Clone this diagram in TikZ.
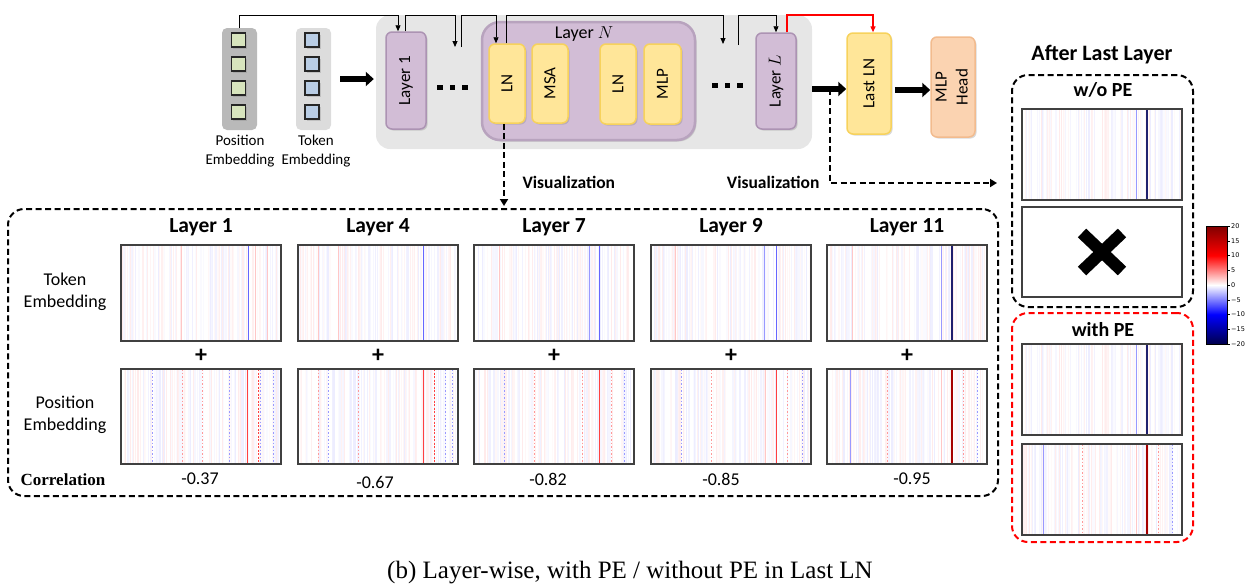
\documentclass[tikz,border=0pt]{standalone}
\usepackage{fontspec}
\setmainfont{Carlito}
\newfontfamily\serifcap{Liberation Serif}
\newfontfamily\cbfont{DejaVu Sans}
\usetikzlibrary{arrows.meta,shadows,calc}
\definecolor{pegray}{HTML}{B9B9B9}
\definecolor{tkgray}{HTML}{DCDCDC}
\definecolor{pegreen}{HTML}{D7E4BD}
\definecolor{tkblue}{HTML}{B9CDE5}
\definecolor{areagray}{HTML}{E6E6E6}
\definecolor{purfill}{HTML}{D2BDD6}
\definecolor{purdraw}{HTML}{AC93B3}
\definecolor{yelfill}{HTML}{FFE699}
\definecolor{yeldraw}{HTML}{F7D25C}
\definecolor{orafill}{HTML}{FBD3B1}
\definecolor{oradraw}{HTML}{F2BB8E}
\definecolor{cbnavy}{HTML}{00004C}
\definecolor{cbdark}{HTML}{800000}
\definecolor{hmnavy}{HTML}{20206E}
\definecolor{hmframe}{HTML}{404040}
\pgfdeclareverticalshading{seismic}{100bp}{color(0bp)=(cbnavy); color(25bp)=(cbnavy); color(37.5bp)=(blue); color(50bp)=(white); color(62.5bp)=(red); color(75bp)=(cbdark); color(100bp)=(cbdark)}
\newcommand{\vl}[2]{\draw[#1] (#2,0) -- (#2,\hh);}
% name, left, top, height, seed, extra lines
\newcommand{\hmap}[6]{%
  \begin{scope}[shift={(#2,#3)}]
    \def\hh{#4}
    \fill[white] (0,0) rectangle (160,#4);
    \pgfmathsetseed{#5}
    \foreach \k in {1,...,70}{
      \pgfmathsetmacro{\xx}{rnd*157+1.5}
      \pgfmathtruncatemacro{\cc}{rnd*7+2}
      \pgfmathsetmacro{\ww}{rnd*1.2+0.4}
      \draw[draw=red!\cc, line width=\ww pt] (\xx,0) -- (\xx,#4);
    }
    \foreach \k in {1,...,55}{
      \pgfmathsetmacro{\xx}{rnd*157+1.5}
      \pgfmathtruncatemacro{\cc}{rnd*6+2}
      \pgfmathsetmacro{\ww}{rnd*1.2+0.4}
      \draw[draw=blue!\cc, line width=\ww pt] (\xx,0) -- (\xx,#4);
    }
    #6
  \end{scope}
  \node[hmbox, minimum height=#4 pt] (#1) at (#2+80,#3+#4/2) {};
}
\begin{document}
\begin{tikzpicture}[x=1pt,y=-1pt,
  conn/.style={line width=0.9pt,-{Triangle[length=6pt,width=5pt]}},
  bigarrow/.style={line width=5.5pt,-{Triangle[length=8pt,width=14pt]}},
  dashconn/.style={line width=2pt,dash pattern=on 6pt off 3.5pt,-{Triangle[length=7pt,width=8pt]}},
  dashbox/.style={line width=2pt,dash pattern=on 6pt off 3.5pt,rounded corners=16pt},
  shadowed/.style={drop shadow={shadow xshift=1.5pt,shadow yshift=-1.5pt,opacity=0.3}},
  purbox/.style={shadowed,rectangle,rounded corners=6pt,fill=purfill,draw=purdraw,line width=1.5pt,inner sep=0pt,font=\fontsize{17}{21}\selectfont},
  yelbox/.style={shadowed,rectangle,rounded corners=6pt,fill=yelfill,draw=yeldraw,line width=1.5pt,inner sep=0pt,font=\fontsize{17}{21}\selectfont},
  orabox/.style={shadowed,rectangle,rounded corners=6pt,fill=orafill,draw=oradraw,line width=1.5pt,inner sep=0pt,font=\fontsize{17}{21}\selectfont},
  embcol/.style={rectangle,rounded corners=5pt,inner sep=0pt,minimum width=35pt,minimum height=102pt},
  sq/.style={shadowed,rectangle,draw=black!85,line width=1.3pt,minimum size=14pt,inner sep=0pt},
  lbl/.style={font=\fontsize{15}{19}\selectfont,align=center},
  sidelbl/.style={font=\fontsize{18}{22}\selectfont,align=center},
  head/.style={font=\fontsize{21.5}{24}\selectfont\bfseries},
  plus/.style={font=\fontsize{24}{24}\selectfont\bfseries},
  corr/.style={font=\fontsize{18}{20}\selectfont},
  vis/.style={font=\fontsize{17.5}{20}\selectfont\bfseries},
  hmbox/.style={rectangle,draw=hmframe,line width=1.1pt,minimum width=160pt,inner sep=0pt},
  bl/.style={draw=blue!60,line width=1pt},
  nv/.style={draw=hmnavy,line width=1.1pt},
  rd/.style={draw=red!75,line width=1pt},
  drd/.style={draw=red!65!black,line width=1.1pt},
  lb/.style={draw=blue!40,line width=1pt},
  lr/.style={draw=red!22,line width=1pt},
  dsh/.style={dash pattern=on 2pt off 1.5pt},
  pb/.style={draw=blue!40,line width=0.9pt,dash pattern=on 1.5pt off 2pt},
  pr/.style={draw=red!40,line width=0.9pt,dash pattern=on 1.5pt off 2pt}
]
\useasboundingbox (0,0) rectangle (1250,587);

% ---------- embeddings ----------
\node[embcol,fill=pegray] (pe) at (239.5,79) {};
\node[embcol,fill=tkgray] (tk) at (313.5,79) {};
\foreach \yy [count=\i] in {40,64,88,112}{
  \node[sq,fill=pegreen] (peq\i) at (238.5,\yy) {};
  \node[sq,fill=tkblue] (tkq\i) at (312,\yy) {};
}
\node[lbl] (pelbl) at (240,151) {Position\\Embedding};
\node[lbl] (tklbl) at (316,151) {Token\\Embedding};

% ---------- encoder area ----------
\node[rectangle,rounded corners=14pt,fill=areagray,minimum width=436pt,minimum height=134pt,inner sep=0pt] (area) at (594,82) {};
\node[purbox] (l1) at (406,80.5) [minimum width=40pt,minimum height=97pt] {\rotatebox{90}{Layer 1}};
\node[purbox,rounded corners=18pt,line width=2.5pt,draw=purdraw!85] (ln) at (588.5,81) [minimum width=213pt,minimum height=118pt] {};
\node[font=\fontsize{18}{20}\selectfont] (lnlbl) at (584,34) {Layer $N$};
\node[yelbox] (ln1) at (507,83.5) [minimum width=36pt,minimum height=79pt] {\rotatebox{90}{LN}};
\node[yelbox] (msa) at (550,83.5) [minimum width=36pt,minimum height=79pt] {\rotatebox{90}{MSA}};
\node[yelbox] (ln2) at (618,84) [minimum width=36pt,minimum height=80pt] {\rotatebox{90}{LN}};
\node[yelbox] (mlp) at (662.5,84) [minimum width=37pt,minimum height=80pt] {\rotatebox{90}{MLP}};
\node[purbox] (ll) at (776,81) [minimum width=40pt,minimum height=96pt] {\rotatebox{90}{Layer $L$}};
\node[yelbox] (lastln) at (869,83.5) [minimum width=44pt,minimum height=101pt] {\rotatebox{90}{Last LN}};
\node[orabox] (mhead) at (953,87) [minimum width=44pt,minimum height=100pt] {\rotatebox{90}{\begin{tabular}{@{}c@{}}MLP\\Head\end{tabular}}};

% dots
\foreach \xx in {437,449.5,462}{ \fill (\xx,84.5) rectangle ++(5.5,5.5); }
\foreach \xx in {712,724.5,737}{ \fill (\xx,82.5) rectangle ++(5.5,5.5); }
\coordinate (d1in) at (455,47);
\coordinate (d1out) at (461,47);
\coordinate (d2in) at (723,44);
\coordinate (d2out) at (738,45);

% thick arrows
\draw[bigarrow] ([xshift=9pt]tk.east) -- ([xshift=-2pt]area.west |- tk.east);
\draw[bigarrow] (area.east |- 0,89) -- (lastln.west |- 0,89);
\draw[bigarrow] ([xshift=3pt]lastln.east |- 0,90) -- (mhead.west |- 0,90);

% thin connectors
\draw[conn] (pe.north) -- (pe.north |- 0,15) -| ([xshift=-8pt]l1.north);
\draw[conn] ([xshift=-1pt]l1.north) -- ([xshift=-1pt]l1.north |- 0,15) -| (d1in);
\draw[conn] (d1out) -- (d1out |- 0,15) -| ([xshift=-11pt]ln1.north);
\draw[conn] ([xshift=-1pt]ln1.north) -- ([xshift=-1pt]ln1.north |- 0,15) -| (d2in);
\draw[conn] (d2out) -- (d2out |- 0,15) -| (ll.north);
\draw[conn,red,line width=1.4pt] ([xshift=11pt]ll.north) -- ([xshift=11pt]ll.north |- 0,15) -| ([xshift=4pt]lastln.north);

% ---------- visualization connectors ----------
\node[dashbox,draw,rectangle,minimum width=990pt,minimum height=287pt,inner sep=0pt] (vbox) at (503,352.5) {};
\draw[dashconn] ([xshift=-3pt]ln1.south) -- ([xshift=-3pt,yshift=2pt]ln1.south |- vbox.north);
\node[vis,anchor=west] (vis1) at (519,182) {Visualization};
\coordinate (v2) at (830,89);
\node[dashbox,draw,rectangle,minimum width=181pt,minimum height=232pt,inner sep=0pt] (wobox) at (1102.5,191) {};
\node[dashbox,draw=red,rectangle,minimum width=181pt,minimum height=229pt,inner sep=0pt] (wbox) at (1102.5,427.5) {};
\draw[dashconn] (v2) |- ([xshift=-14pt]wobox.west |- 0,183);
\node[vis,anchor=east] (vis2) at (823,182) {Visualization};

% ---------- heatmaps ----------
\foreach \lx/\nm [count=\j] in {121/1,298/4,474/7,651/9,827/11}{
  \node[head] (h\j) at (\lx+80,227) {Layer \nm};
  \node[plus] (p\j) at (\lx+80,356) {+};
}
\hmap{t1}{121}{245}{96}{11}{\vl{bl}{127}\vl{lr}{134}\vl{lr}{146}\vl{lr}{60}}
\hmap{q1}{121}{369}{95}{12}{\vl{rd}{126}\vl{rd,dsh}{137}\vl{pb}{31}\vl{pr}{61}\vl{pr}{81}\vl{pb}{139}\vl{pb}{152}\vl{pb}{108}}
\hmap{t4}{298}{245}{96}{13}{\vl{bl}{125}\vl{lr}{20}\vl{lr}{40}}
\hmap{q4}{298}{369}{95}{14}{\vl{rd}{125}\vl{rd,dsh}{136}\vl{pb}{147}\vl{pb}{154}\vl{pb}{30}\vl{pr}{60}\vl{pr}{20}}
\hmap{t7}{474}{245}{96}{15}{\vl{bl}{125}\vl{lr}{25}\vl{lb}{115}}
\hmap{q7}{474}{369}{95}{16}{\vl{rd}{125}\vl{pr}{137}\vl{pb}{150}\vl{pb}{30}\vl{pr}{60}\vl{pr}{108}}
\hmap{t9}{651}{245}{96}{17}{\vl{bl}{125}\vl{lb}{113}\vl{lr}{24}}
\hmap{q9}{651}{369}{95}{18}{\vl{rd}{125}\vl{pr}{136}\vl{pb}{151}\vl{lr}{114}\vl{pr}{60}\vl{pb}{30}}
\hmap{t11}{827}{245}{96}{19}{\vl{nv}{125}\vl{lb}{114}\vl{lr}{25}}
\hmap{q11}{827}{369}{95}{20}{\vl{drd}{125}\vl{lr}{114}\vl{pr}{136}\vl{lb}{23}\vl{pb}{150}\vl{pr}{60}}

\node[sidelbl] (tklbl2) at (65,292) {Token\\Embedding};
\node[sidelbl] (pelbl2) at (65,415) {Position\\Embedding};
\node[font=\fontsize{17}{18}\selectfont\serifcap\bfseries] (corrlbl) at (63,480) {Correlation};
\node[corr] (c1) at (200,479) {-0.37};
\node[corr] (c4) at (375,482) {-0.67};
\node[corr] (c7) at (548,479) {-0.82};
\node[corr] (c9) at (721,479) {-0.85};
\node[corr] (c11) at (912,479) {-0.95};

% ---------- after last layer ----------
\node[font=\fontsize{22}{24}\selectfont\bfseries] (after) at (1102,55) {After Last Layer};
\node[font=\fontsize{20}{22}\selectfont\bfseries] (wope) at (1103,90) {w/o PE};
\node[font=\fontsize{20}{22}\selectfont\bfseries] (wpe) at (1103,330) {with PE};
\hmap{r1}{1022}{109}{91}{21}{\vl{nv}{125}\vl{lb}{114}}
\node[hmbox,fill=white,minimum height=90pt] (rx) at (1102,252) {};
\draw[line width=12pt] ([xshift=-20pt,yshift=19pt]rx.center) -- ([xshift=20pt,yshift=-19pt]rx.center);
\draw[line width=12pt] ([xshift=-20pt,yshift=-19pt]rx.center) -- ([xshift=20pt,yshift=19pt]rx.center);
\hmap{r3}{1022}{344}{91}{21}{\vl{nv}{125}\vl{lb}{114}}
\hmap{r4}{1022}{444}{91}{23}{\vl{drd}{125}\vl{lr}{114}\vl{pr}{136}\vl{pb}{150}\vl{lb}{21}\vl{pr}{60}}

% ---------- colorbar ----------
\shade[shading=seismic] (1206,226) rectangle (1227,344);
\node[draw,line width=0.5pt,minimum width=21pt,minimum height=118pt,inner sep=0pt] (cbar) at (1216.5,285) {};
\foreach \lab [count=\i from 0] in {20,15,10,5,0,−5,−10,−15,−20}{
  \draw[line width=0.5pt] (1227,226+\i*14.75) -- (1230,226+\i*14.75);
  \node[anchor=west,inner sep=1pt,font=\cbfont\fontsize{6.5}{7}\selectfont] (cb\i) at (1230,226+\i*14.75) {\lab};
}

% ---------- caption ----------
\node[font=\serifcap\fontsize{25}{27}\selectfont] (cap) at (630,573) {(b) Layer-wise, with PE / without PE in Last LN};
\end{tikzpicture}
\end{document}
